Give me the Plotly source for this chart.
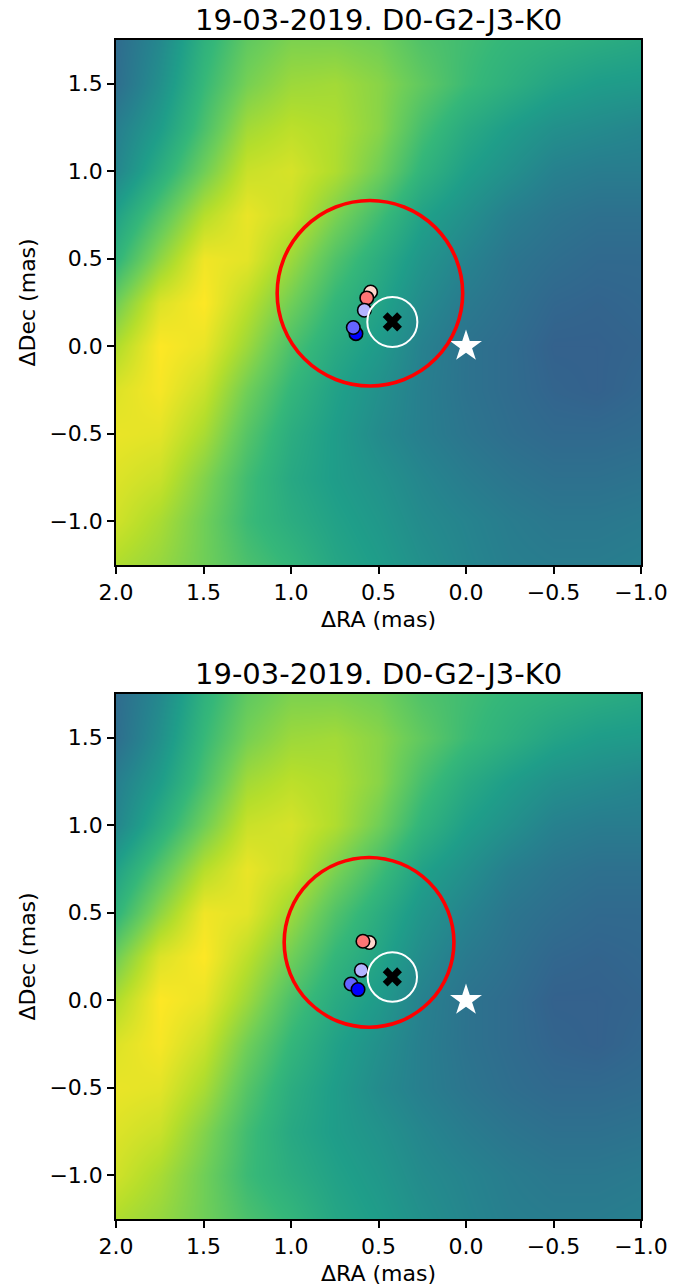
import plotly.graph_objects as go

# ---------------- data ----------------
TITLE = "19-03-2019. D0-G2-J3-K0"
X_LABEL = "\u0394RA (mas)"
Y_LABEL = "\u0394Dec (mas)"

# background map (viridis fraction), coarse grid
GRID_X = [2.0, 1.75, 1.5, 1.25, 1.0, 0.75, 0.5, 0.25, 0.0, -0.25, -0.5, -0.75, -1.0]
GRID_Y = [1.75, 1.5, 1.25, 1.0, 0.75, 0.5, 0.25, 0.0, -0.25, -0.5, -0.75, -1.0, -1.25]
GRID_Z = [
    [0.35, 0.47, 0.64, 0.75, 0.80, 0.80, 0.78, 0.72, 0.69, 0.66, 0.64, 0.62, 0.60],
    [0.36, 0.50, 0.67, 0.79, 0.85, 0.86, 0.82, 0.75, 0.68, 0.63, 0.58, 0.55, 0.54],
    [0.43, 0.55, 0.71, 0.86, 0.90, 0.88, 0.82, 0.70, 0.61, 0.55, 0.50, 0.48, 0.46],
    [0.46, 0.62, 0.78, 0.92, 0.94, 0.88, 0.78, 0.65, 0.56, 0.50, 0.44, 0.42, 0.42],
    [0.57, 0.73, 0.89, 0.97, 0.92, 0.80, 0.69, 0.57, 0.50, 0.43, 0.39, 0.37, 0.37],
    [0.65, 0.83, 0.98, 0.96, 0.85, 0.72, 0.62, 0.52, 0.45, 0.39, 0.36, 0.34, 0.34],
    [0.78, 0.95, 1.00, 0.90, 0.78, 0.66, 0.58, 0.48, 0.41, 0.37, 0.33, 0.32, 0.33],
    [0.88, 1.00, 0.97, 0.85, 0.71, 0.61, 0.54, 0.44, 0.38, 0.35, 0.31, 0.31, 0.32],
    [0.95, 0.99, 0.92, 0.78, 0.66, 0.57, 0.50, 0.43, 0.38, 0.35, 0.32, 0.31, 0.33],
    [0.97, 0.96, 0.87, 0.73, 0.62, 0.55, 0.48, 0.43, 0.39, 0.36, 0.34, 0.34, 0.35],
    [0.95, 0.92, 0.81, 0.69, 0.60, 0.55, 0.51, 0.46, 0.42, 0.39, 0.37, 0.37, 0.38],
    [0.93, 0.87, 0.78, 0.68, 0.62, 0.57, 0.53, 0.48, 0.45, 0.42, 0.40, 0.40, 0.41],
    [0.88, 0.84, 0.78, 0.71, 0.66, 0.59, 0.55, 0.50, 0.46, 0.43, 0.42, 0.42, 0.43],
]

# per panel: red circle (center, radius), white circle (center, radius), points
RED_CENTER = [(0.549, 0.303), (0.554, 0.331)]
RED_RADIUS = [0.530, 0.485]
FIT_CENTER = [(0.421, 0.139), (0.421, 0.133)]
FIT_RADIUS = [0.143, 0.141]

PT_COLORS_TOP = ["#0000ff", "#6464ff", "#ffd6cc", "#ff7575", "#b4b4ff"]
PT_X_TOP = [0.629, 0.644, 0.545, 0.567, 0.581]
PT_Y_TOP = [0.072, 0.107, 0.310, 0.276, 0.206]

PT_COLORS_BOT = ["#6464ff", "#0000ff", "#ffd6cc", "#ff7575", "#b4b4ff"]
PT_X_BOT = [0.657, 0.617, 0.553, 0.589, 0.598]
PT_Y_BOT = [0.093, 0.061, 0.330, 0.337, 0.171]

STAR_X = [0.0]
STAR_Y = [0.0]

X_RANGE = [2.0, -1.0]
Y_RANGE = [-1.25, 1.75]
X_TICKS = [2.0, 1.5, 1.0, 0.5, 0.0, -0.5, -1.0]
X_TICKTEXT = ["2.0", "1.5", "1.0", "0.5", "0.0", "\u22120.5", "\u22121.0"]
Y_TICKS = [-1.0, -0.5, 0.0, 0.5, 1.0, 1.5]
Y_TICKTEXT = ["\u22121.0", "\u22120.5", "0.0", "0.5", "1.0", "1.5"]

# ---------------- figure ----------------
W, H = 695, 1288
FONT = "DejaVu Sans"
fig = go.Figure()


def fx_(p):
    return p / W


def fy_(p):
    return 1 - p / H


xdom = [fx_(116), fx_(641)]
ydoms = [[fy_(565), fy_(40)], [fy_(1219), fy_(694)]]
xlabel_y = [fy_(619), fy_(1273)]

panels = [
    (PT_X_TOP, PT_Y_TOP, PT_COLORS_TOP),
    (PT_X_BOT, PT_Y_BOT, PT_COLORS_BOT),
]

for i, (px, py, pc) in enumerate(panels):
    xa = "x" if i == 0 else "x2"
    ya = "y" if i == 0 else "y2"
    fig.add_trace(go.Heatmap(
        x=GRID_X, y=GRID_Y, z=GRID_Z, colorscale="Viridis", zmin=0, zmax=1,
        zsmooth="best", showscale=False, hoverinfo="skip", xaxis=xa, yaxis=ya))
    fig.add_trace(go.Scatter(
        x=px, y=py, mode="markers", xaxis=xa, yaxis=ya, showlegend=False,
        marker=dict(size=13.5, color=pc, line=dict(color="black", width=1.6))))
    fig.add_trace(go.Scatter(
        x=[FIT_CENTER[i][0]], y=[FIT_CENTER[i][1]], mode="markers", xaxis=xa, yaxis=ya,
        showlegend=False, marker=dict(symbol="x", size=17, color="black",
                                      line=dict(width=0))))
    fig.add_trace(go.Scatter(
        x=STAR_X, y=STAR_Y, mode="markers", xaxis=xa, yaxis=ya, showlegend=False,
        marker=dict(symbol="star", size=24, color="white", line=dict(width=0))))
    cx, cy = RED_CENTER[i]
    r = RED_RADIUS[i]
    fig.add_shape(type="circle", xref=xa, yref=ya, x0=cx - r, x1=cx + r,
                  y0=cy - r, y1=cy + r, line=dict(color="#ff0000", width=3.6))
    fx, fy = FIT_CENTER[i]
    fr = FIT_RADIUS[i]
    fig.add_shape(type="circle", xref=xa, yref=ya, x0=fx - fr, x1=fx + fr,
                  y0=fy - fr, y1=fy + fr, line=dict(color="white", width=2))

    axis_common = dict(showline=True, linecolor="black", linewidth=1.6, mirror=True,
                       ticks="outside", ticklen=7, tickwidth=1.6, tickcolor="black",
                       showgrid=False, zeroline=False, automargin=False,
                       tickfont=dict(family=FONT, size=22, color="black"))
    fig.update_layout(**{
        ("xaxis" if i == 0 else "xaxis2"): dict(
            domain=xdom, range=X_RANGE, anchor=ya, tickvals=X_TICKS, ticktext=X_TICKTEXT,
            **axis_common),
        ("yaxis" if i == 0 else "yaxis2"): dict(
            domain=ydoms[i], range=Y_RANGE, anchor=xa, tickvals=Y_TICKS, ticktext=Y_TICKTEXT,
            **axis_common),
    })
    fig.add_annotation(text=TITLE, xref="paper", yref="paper",
                       x=(xdom[0] + xdom[1]) / 2, y=ydoms[i][1], xanchor="center",
                       yanchor="bottom", yshift=1, showarrow=False,
                       font=dict(family=FONT, size=29, color="black"))
    fig.add_annotation(text=X_LABEL, xref="paper", yref="paper",
                       x=(xdom[0] + xdom[1]) / 2, y=xlabel_y[i], xanchor="center",
                       yanchor="middle", showarrow=False,
                       font=dict(family=FONT, size=22, color="black"))
    fig.add_annotation(text=Y_LABEL, xref="paper", yref="paper", textangle=-90,
                       x=fx_(27), y=(ydoms[i][0] + ydoms[i][1]) / 2, xanchor="center",
                       yanchor="middle", showarrow=False,
                       font=dict(family=FONT, size=22, color="black"))

fig.update_layout(width=W, height=H, margin=dict(l=0, r=0, t=0, b=0),
                  paper_bgcolor="white", plot_bgcolor="white", showlegend=False)

fig.write_html("out.html", config={"displayModeBar": False},
               post_script="document.body.style.margin='0';"
                           "document.body.style.overflow='hidden';")
